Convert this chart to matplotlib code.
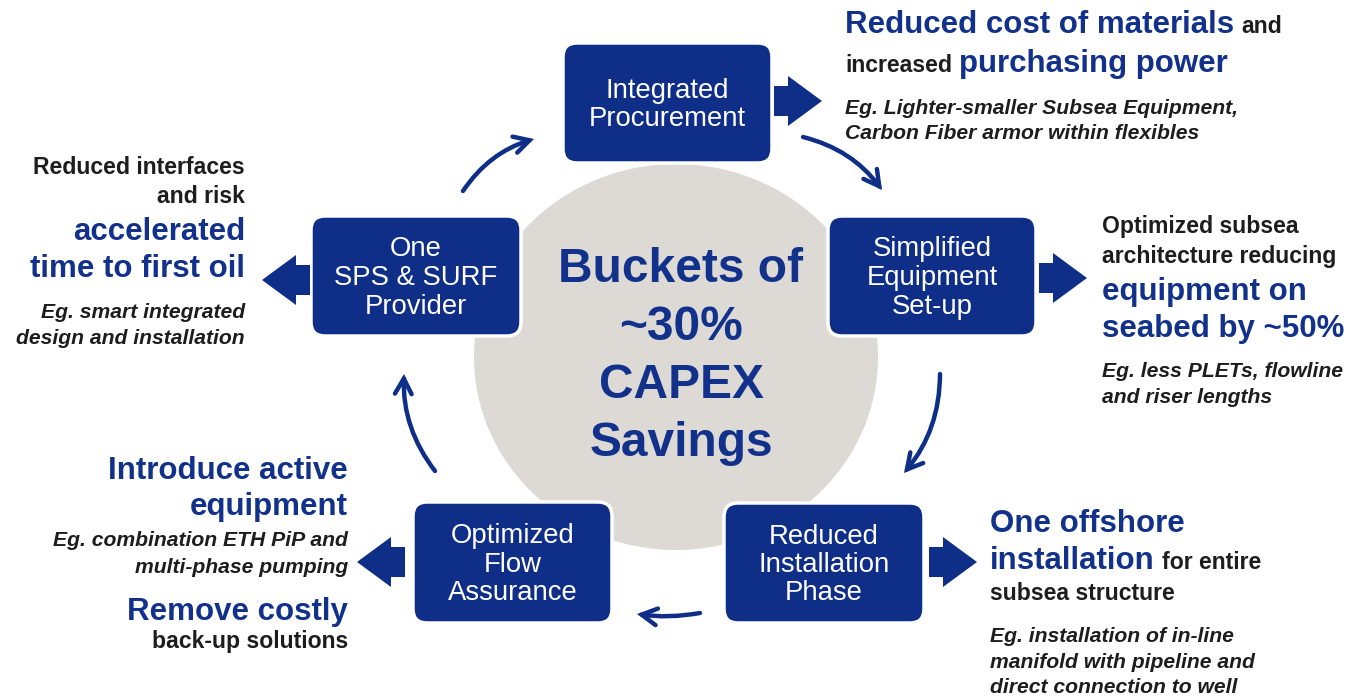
import matplotlib.pyplot as plt
from matplotlib.patches import FancyBboxPatch, Ellipse, Polygon, FancyArrowPatch

BLUE = '#12318b'
BOX = '#0f2e87'
GREY = '#dddad6'
INK = '#1d1d1d'
FONT = 'Liberation Sans'

# centre hub
center_lines = ["Buckets of", "~30%", "CAPEX", "Savings"]

# the five process boxes: label lines and (x, y, w, h) in pixels
box_labels = [
    ["Integrated", "Procurement"],
    ["One", "SPS & SURF", "Provider"],
    ["Simplified", "Equipment", "Set-up"],
    ["Optimized", "Flow", "Assurance"],
    ["Reduced", "Installation", "Phase"],
]
box_rects = [(563, 43, 209, 120), (311, 216, 210, 120), (828, 216, 208, 120),
             (413, 502, 199, 121), (724, 503, 200, 120)]

# block arrows pointing out of each box: tip x, centre y, direction
block_tips = [(822, 101, 1), (262, 280, -1), (1087, 278, 1), (357, 562, -1), (977, 562, 1)]

# thin curved arrows of the cycle (tail, head, bend)
cycle_arrows = [((463, 191), (534, 139), -0.18), ((803, 137), (882, 190), -0.18),
                ((940, 374), (904, 473), -0.18), ((700, 613), (637, 614), -0.08),
                ((435, 471), (404, 374), -0.18)]

# callout text: anchor x, alignment, then (baseline y, [(text, style), ...])
callouts = [
    (845, 'left', [
        (33, [("Reduced cost of materials", 'blue'), ("and", 'black')]),
        (72, [("increased", 'black'), ("purchasing power", 'blue')]),
        (114, [("Eg. Lighter-smaller Subsea Equipment,", 'ital')]),
        (139, [("Carbon Fiber armor within flexibles", 'ital')]),
    ]),
    (245, 'right', [
        (174, [("Reduced interfaces", 'black')]),
        (203, [("and risk", 'black')]),
        (240, [("accelerated", 'blue')]),
        (277, [("time to first oil", 'blue')]),
        (318, [("Eg. smart integrated", 'ital')]),
        (344, [("design and installation", 'ital')]),
    ]),
    (1102, 'left', [
        (233, [("Optimized subsea", 'black')]),
        (263, [("architecture reducing", 'black')]),
        (300, [("equipment on", 'blue')]),
        (337, [("seabed by ~50%", 'blue')]),
        (377, [("Eg. less PLETs, flowline", 'ital')]),
        (403, [("and riser lengths", 'ital')]),
    ]),
    (348, 'right', [
        (479, [("Introduce active", 'blue')]),
        (515, [("equipment", 'blue')]),
        (546, [("Eg. combination ETH PiP and", 'ital')]),
        (573, [("multi-phase pumping", 'ital')]),
        (620, [("Remove costly", 'blue')]),
        (648, [("back-up solutions", 'black')]),
    ]),
    (990, 'left', [
        (532, [("One offshore", 'blue')]),
        (569, [("installation", 'blue'), ("for entire", 'black')]),
        (600, [("subsea structure", 'black')]),
        (642, [("Eg. installation of in-line", 'ital')]),
        (668, [("manifold with pipeline and", 'ital')]),
        (693, [("direct connection to well", 'ital')]),
    ]),
]

styles = {
    'blue': dict(color=BLUE, fontsize=22.5, fontweight='bold'),
    'black': dict(color=INK, fontsize=16.6, fontweight='bold'),
    'ital': dict(color=INK, fontsize=15.2, fontweight='bold', fontstyle='italic'),
}

fig = plt.figure(figsize=(13.67, 7.0), dpi=100)
ax = fig.add_axes([0, 0, 1, 1])
ax.set_xlim(0, 1367)
ax.set_ylim(700, 0)
ax.axis('off')

ax.add_patch(Ellipse((676, 357), 404, 386, facecolor=GREY, edgecolor='none', zorder=1))
for i, line in enumerate(center_lines):
    ax.text(681, 282 + i * 58, line, ha='center', va='baseline', fontsize=34.5,
            fontweight='bold', color=BLUE, family=FONT, zorder=5)

for labels, (x, y, w, h) in zip(box_labels, box_rects):
    ax.add_patch(FancyBboxPatch((x, y), w, h, boxstyle='round,pad=0,rounding_size=14',
                                facecolor=BOX, edgecolor='white', linewidth=2.5, zorder=3))
    n = len(labels)
    for i, lab in enumerate(labels):
        yb = y + h / 2 + (i - (n - 1) / 2) * 28.5 + 9
        ax.text(x + w / 2, yb, lab, ha='center', va='baseline', fontsize=19.8,
                color='white', family=FONT, zorder=4)

for tip, yc, d in block_tips:
    L, hl, sh, hh = 48, 34, 15, 25
    base = tip - d * hl
    tail = tip - d * L
    pts = [(tail, yc - sh), (base, yc - sh), (base, yc - hh), (tip, yc),
           (base, yc + hh), (base, yc + sh), (tail, yc + sh)]
    ax.add_patch(Polygon(pts, closed=True, facecolor=BOX, edgecolor='none', zorder=3))

for p0, p1, rad in cycle_arrows:
    ax.add_patch(FancyArrowPatch(p0, p1, connectionstyle=f'arc3,rad={rad}',
                                 arrowstyle='->,head_length=11,head_width=6',
                                 color=BOX, linewidth=3.2, zorder=3,
                                 shrinkA=0, shrinkB=0, joinstyle='miter', capstyle='round'))

fig.canvas.draw()
renderer = fig.canvas.get_renderer()


def draw_runs(x, y, runs, ha):
    items = []
    for txt, key in runs:
        t = ax.text(0, y, txt, va='baseline', ha='left', family=FONT, zorder=5, **styles[key])
        w = t.get_window_extent(renderer).width
        items.append((t, w, styles[key]['fontsize']))
    gap = [0] + [0.3 * min(a[2], b[2]) * 100 / 72 for a, b in zip(items[:-1], items[1:])]
    total = sum(w for _, w, _ in items) + sum(gap)
    cur = x if ha == 'left' else x - total
    for (t, w, _), g in zip(items, gap):
        cur += g
        t.set_x(cur)
        cur += w


for x0, ha, lines in callouts:
    for yb, runs in lines:
        draw_runs(x0, yb, runs, ha)

fig.savefig('out.png', dpi=100, facecolor='white')
